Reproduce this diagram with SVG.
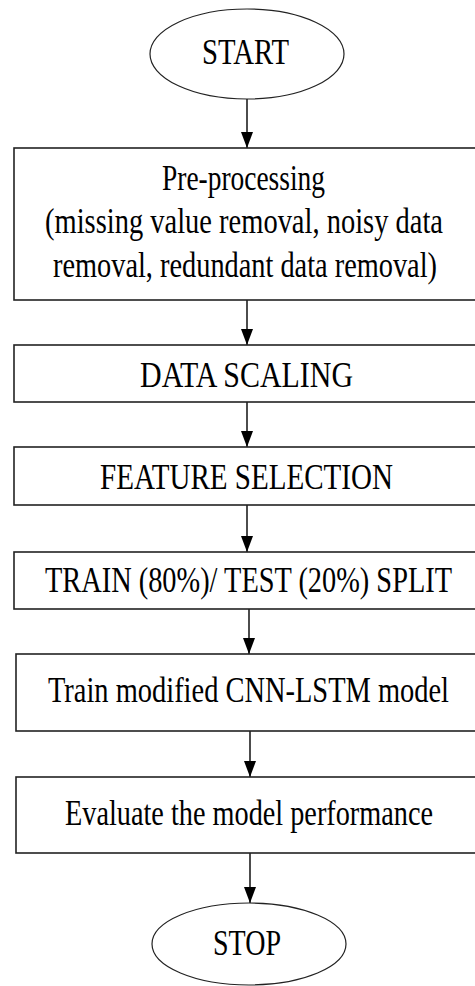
<svg xmlns="http://www.w3.org/2000/svg" width="475" height="986" viewBox="0 0 475 986">
<defs>
<style>
.box{fill:#fff;stroke:#222;stroke-width:1.6}
.ell{fill:#fff;stroke:#222;stroke-width:1.2}
.t{font-family:"Liberation Serif","Times New Roman",serif;font-size:29px;fill:#000;text-anchor:middle}
.c{stroke:#000;stroke-width:1.4;fill:none}
</style>
<marker id="ah" markerUnits="userSpaceOnUse" markerWidth="16" markerHeight="12" viewBox="0 0 16 12" refX="16" refY="6" orient="auto">
<path d="M0,0 L16,6 L0,12 Z" fill="#000"/>
</marker>
</defs>
<rect width="475" height="986" fill="#fff"/>
<g id="connectors">
<line class="c" x1="247" y1="99" x2="247" y2="148" marker-end="url(#ah)"/>
<line class="c" x1="247" y1="300" x2="247" y2="345" marker-end="url(#ah)"/>
<line class="c" x1="247" y1="402" x2="247" y2="447" marker-end="url(#ah)"/>
<line class="c" x1="247" y1="505" x2="247" y2="552" marker-end="url(#ah)"/>
<line class="c" x1="249" y1="609" x2="249" y2="654" marker-end="url(#ah)"/>
<line class="c" x1="250" y1="731" x2="250" y2="777" marker-end="url(#ah)"/>
<line class="c" x1="250" y1="853" x2="250" y2="903" marker-end="url(#ah)"/>
</g>
<g id="start">
<ellipse class="ell" cx="247" cy="54" rx="97" ry="45"/>
<text class="t" transform="translate(245.5,64) scale(1,1.22)" textLength="87" lengthAdjust="spacingAndGlyphs">START</text>
</g>
<g id="preprocessing">
<rect class="box" x="14" y="148" width="468" height="152"/>
<text class="t" transform="translate(243.5,190) scale(1,1.22)" textLength="163" lengthAdjust="spacingAndGlyphs">Pre-processing</text>
<text class="t" transform="translate(244,233) scale(1,1.22)" textLength="398" lengthAdjust="spacingAndGlyphs">(missing value removal, noisy data</text>
<text class="t" transform="translate(245,277) scale(1,1.22)" textLength="384" lengthAdjust="spacingAndGlyphs">removal, redundant data removal)</text>
</g>
<g id="scaling">
<rect class="box" x="14" y="345" width="468" height="57"/>
<text class="t" transform="translate(246.5,387) scale(1,1.22)" textLength="213" lengthAdjust="spacingAndGlyphs">DATA SCALING</text>
</g>
<g id="feature">
<rect class="box" x="14" y="447" width="468" height="58"/>
<text class="t" transform="translate(246.5,489) scale(1,1.22)" textLength="293" lengthAdjust="spacingAndGlyphs">FEATURE SELECTION</text>
</g>
<g id="split">
<rect class="box" x="14" y="552" width="468" height="57"/>
<text class="t" transform="translate(248.5,592) scale(1,1.22)" textLength="407" lengthAdjust="spacingAndGlyphs">TRAIN (80%)/ TEST (20%) SPLIT</text>
</g>
<g id="train">
<rect class="box" x="16" y="654" width="468" height="77"/>
<text class="t" transform="translate(248.5,702) scale(1,1.22)" textLength="401" lengthAdjust="spacingAndGlyphs">Train modified CNN-LSTM model</text>
</g>
<g id="evaluate">
<rect class="box" x="16" y="777" width="468" height="76"/>
<text class="t" transform="translate(249,825) scale(1,1.22)" textLength="368" lengthAdjust="spacingAndGlyphs">Evaluate the model performance</text>
</g>
<g id="stop">
<ellipse class="ell" cx="249" cy="944" rx="97" ry="41"/>
<text class="t" transform="translate(247,955) scale(1,1.22)" textLength="68" lengthAdjust="spacingAndGlyphs">STOP</text>
</g>
</svg>
